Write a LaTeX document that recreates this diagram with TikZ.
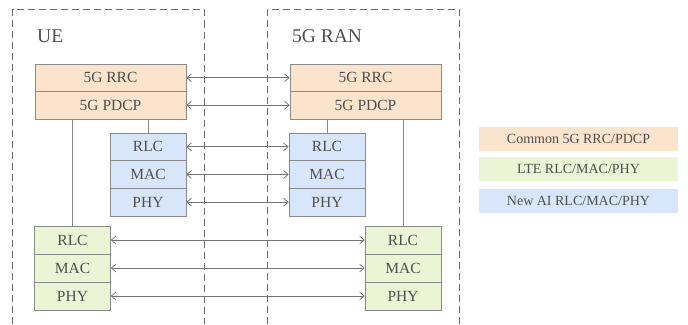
\documentclass[tikz,border=0pt]{standalone}
\usepackage{fontspec}
\setmainfont{Liberation Serif}
\usetikzlibrary{arrows.meta}
\definecolor{orng}{HTML}{FCE4CC}
\definecolor{grn}{HTML}{EBF4D5}
\definecolor{blu}{HTML}{D7E6FA}
\definecolor{bord}{HTML}{8A8A8A}
\definecolor{txt}{HTML}{505050}
\definecolor{dash}{HTML}{6A6A6A}
\definecolor{arrc}{HTML}{767676}
\begin{document}
\begin{tikzpicture}[x=1pt,y=-1pt,
  layer/.style={draw=bord,line width=0.7pt,inner sep=0pt,text=txt,font=\fontsize{15.5}{16}\selectfont},
  orbox/.style={layer,fill=orng,minimum width=151pt,minimum height=27.5pt},
  blbox/.style={layer,fill=blu,minimum width=76pt,minimum height=27.67pt},
  grbox/.style={layer,fill=grn,minimum width=76pt,minimum height=28pt},
  legend/.style={inner sep=0pt,text=txt,minimum width=199pt,minimum height=24pt,font=\fontsize{14}{15}\selectfont},
  title/.style={text=txt,inner sep=0pt,anchor=base west,font=\fontsize{19.5}{20}\selectfont},
  frame/.style={draw=dash,line width=0.7pt,dash pattern=on 7pt off 4pt},
  link/.style={draw=bord,line width=0.7pt},
  msg/.style={draw=arrc,line width=0.8pt,{Straight Barb[length=4.5pt,width=8pt]}-{Straight Barb[length=4.5pt,width=8pt]}}]
\useasboundingbox (0,0) rectangle (688,324);
% frames
\draw[frame] (12.5,324) -- (12.5,9.5) -- (204,9.5) -- (204,324);
\draw[frame] (267,324) -- (267,9.5) -- (459,9.5) -- (459,324);
\node[title] (ue) at (37,42.5) {UE};
\node[title] (ran) at (292,42.5) {5G RAN};
% UE stacks
\node[orbox] (rrcU) at (110.5,77.75) {5G RRC};
\node[orbox] (pdcpU) at (110.5,105.25) {5G PDCP};
\node[blbox] (rlcBU) at (148,146.83) {RLC};
\node[blbox] (macBU) at (148,174.5) {MAC};
\node[blbox] (phyBU) at (148,202.17) {PHY};
\node[grbox] (rlcGU) at (72.5,240) {RLC};
\node[grbox] (macGU) at (72.5,268) {MAC};
\node[grbox] (phyGU) at (72.5,296) {PHY};
% RAN stacks
\node[orbox] (rrcR) at (365.5,77.75) {5G RRC};
\node[orbox] (pdcpR) at (365.5,105.25) {5G PDCP};
\node[blbox] (rlcBR) at (327,146.83) {RLC};
\node[blbox] (macBR) at (327,174.5) {MAC};
\node[blbox] (phyBR) at (327,202.17) {PHY};
\node[grbox] (rlcGR) at (403,240) {RLC};
\node[grbox] (macGR) at (403,268) {MAC};
\node[grbox] (phyGR) at (403,296) {PHY};
% vertical links
\draw[link] (rlcGU.north) -- (rlcGU.north |- pdcpU.south);
\draw[link] (rlcBU.north) -- (rlcBU.north |- pdcpU.south);
\draw[link] (rlcBR.north) -- (rlcBR.north |- pdcpR.south);
\draw[link] (rlcGR.north) -- (rlcGR.north |- pdcpR.south);
% peer arrows
\draw[msg] (rrcU.east) -- (rrcR.west);
\draw[msg] (pdcpU.east) -- (pdcpR.west);
\draw[msg] (rlcBU.east) -- (rlcBR.west);
\draw[msg] (macBU.east) -- (macBR.west);
\draw[msg] (phyBU.east) -- (phyBR.west);
\draw[msg] (rlcGU.east) -- (rlcGR.west);
\draw[msg] (macGU.east) -- (macGR.west);
\draw[msg] (phyGU.east) -- (phyGR.west);
% legend
\node[legend,fill=orng] (lo) at (578.5,139) {Common 5G RRC/PDCP};
\node[legend,fill=grn] (lg) at (578.5,169) {LTE RLC/MAC/PHY};
\node[legend,fill=blu] (lb) at (578.5,201) {New AI RLC/MAC/PHY};
\end{tikzpicture}
\end{document}
